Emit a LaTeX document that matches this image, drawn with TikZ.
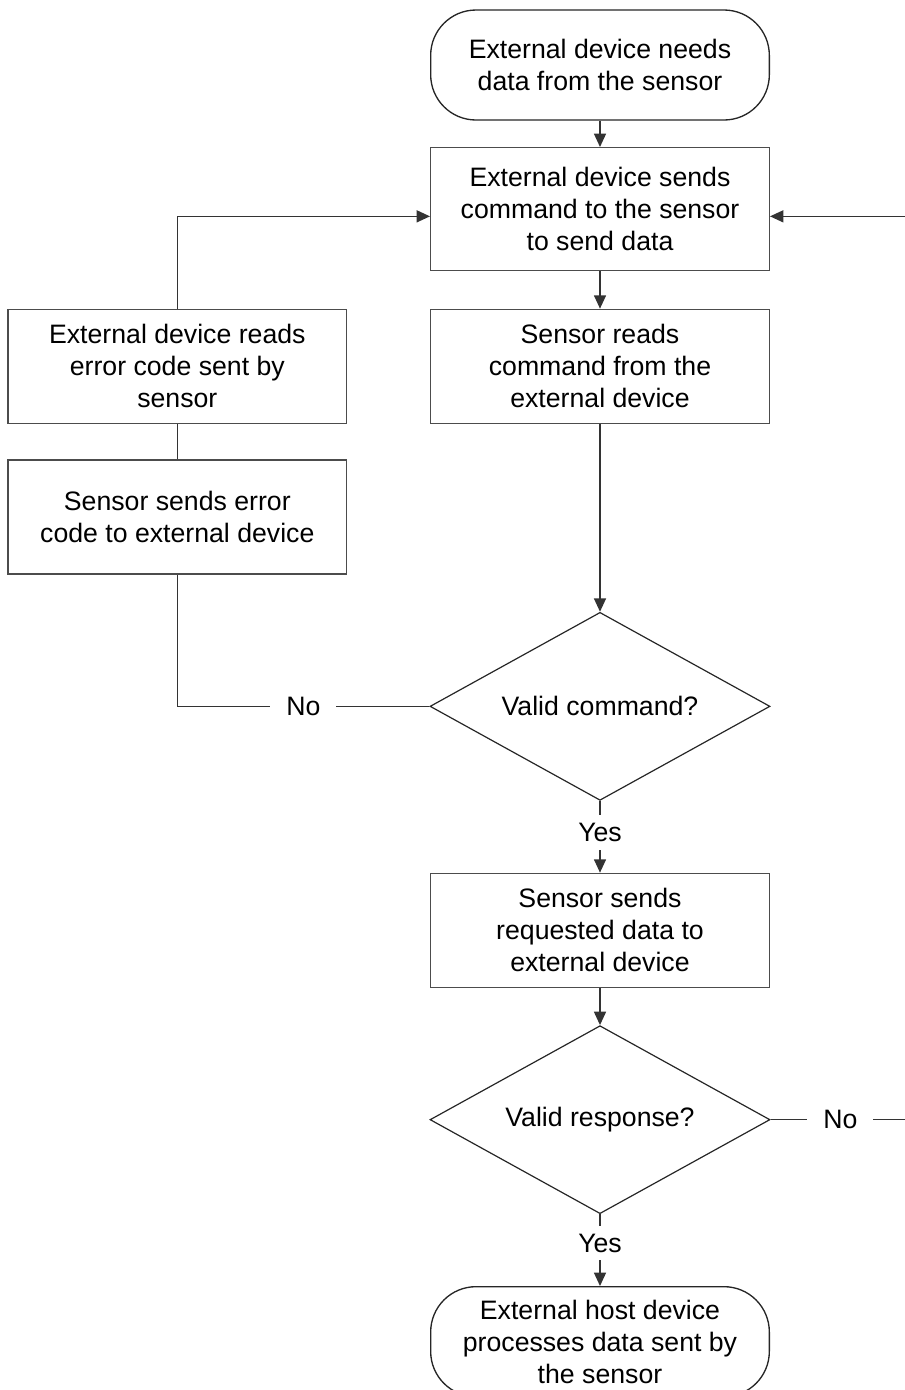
\documentclass[tikz,border=0pt]{standalone}
\usepackage{fontspec}
\setmainfont{Liberation Sans}
\usetikzlibrary{shapes.geometric,arrows.meta}

\begin{document}
\begin{tikzpicture}[
    node distance=108pt,
    every node/.style={font=\fontsize{20}{24}\selectfont},
    box/.style={rectangle, draw=black!70, line width=1pt, align=center, minimum width=254pt, minimum height=85.5pt, inner sep=0pt},
    term/.style={rectangle, rounded corners=34pt, draw=black!85, line width=1pt, align=center, minimum width=254pt, minimum height=82.5pt, inner sep=0pt},
    decision/.style={diamond, aspect=2, draw=black!85, line width=0.9pt, align=center, minimum width=255pt, minimum height=141pt, inner sep=0pt},
    line/.style={draw=black!80, line width=1pt},
    arrow/.style={line, -{Triangle[length=10pt, width=9pt]}},
    lbl/.style={fill=white, inner xsep=12pt, inner ysep=6pt}
]
\useasboundingbox (0,0) rectangle (678.75pt,-1042.5pt);

% Main flow
\node[term] (start) at (450pt,-48.75pt) {External device needs\\data from the sensor};
\node[box, below of=start, minimum height=92pt] (send) {External device sends\\command to the sensor\\to send data};
\node[box, below of=send, yshift=-10pt] (read) {Sensor reads\\command from the\\external device};
\node[decision, below of=read, yshift=-147pt] (valid) {Valid command?};
\node[box, below of=valid, yshift=-60pt] (reply) {Sensor sends\\requested data to\\external device};
\node[decision, below of=reply, yshift=-34pt] (check) {Valid response?};
\node[term, below of=check, yshift=-58.5pt] (done) {External host device\\processes data sent by\\the sensor};

% Error branch
\node[box, left of=read, xshift=-209pt] (errread) {External device reads\\error code sent by\\sensor};
\node[box, below of=errread, yshift=-5pt] (errsend) {Sensor sends error\\code to external device};

% Return point off the right edge
\coordinate (back) at ([xshift=105pt, yshift=-5.5pt]send.east);

% Arrows
\draw[arrow] (start) -- (send);
\draw[arrow] (send) -- (read);
\draw[arrow] (read) -- (valid);
\draw[arrow] (valid) -- node[lbl, pos=0.44] {Yes} (reply);
\draw[arrow] (reply) -- (check);
\draw[arrow] (check) -- node[lbl, pos=0.4] {Yes} (done);

% Loops back
\draw[line] (valid.west) -- node[lbl] {No} (valid.west -| errsend) -- (errsend);
\draw[line] (errsend) -- (errread);
\draw[arrow] (errread.north) |- ([yshift=-5.5pt]send.west);
\draw[arrow] (check.east) -- node[lbl] {No} (check.east -| back) -- (back) -- ([yshift=-5.5pt]send.east);

\end{tikzpicture}
\end{document}
